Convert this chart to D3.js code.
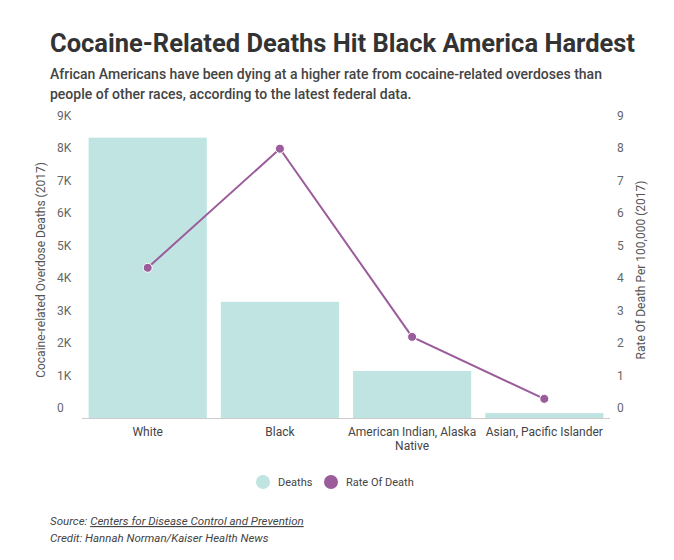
<!DOCTYPE html>
<html><head><meta charset="utf-8">
<script src="https://cdn.jsdelivr.net/npm/d3@7"></script>
<style>body{margin:0;background:#fff;font-family:Roboto,sans-serif}</style>
</head><body><svg id="c" width="674" height="560"></svg>
<script>
const categories=["White","Black","American Indian, Alaska Native","Asian, Pacific Islander"];
const deaths=[8640,3580,1450,150];
const rates=[4.63,8.3,2.5,0.59];
const leftTicks=[0,1000,2000,3000,4000,5000,6000,7000,8000,9000];
const leftLabels=["0","1K","2K","3K","4K","5K","6K","7K","8K","9K"];
const rightTicks=[0,1,2,3,4,5,6,7,8,9];
const svg=d3.select("#c");
svg.append("text").attr("x",50).attr("y",52).attr("font-size",25.5).attr("font-weight",700).attr("fill","#333").text("Cocaine-Related Deaths Hit Black America Hardest");
svg.append("text").attr("x",50).attr("y",79).attr("font-size",14).attr("font-weight",500).attr("fill","#444").text("African Americans have been dying at a higher rate from cocaine-related overdoses than");
svg.append("text").attr("x",50).attr("y",99).attr("font-size",14).attr("font-weight",500).attr("fill","#444").text("people of other races, according to the latest federal data.");
const x=d3.scaleBand().domain(categories).range([82,610]).paddingInner(0.106).paddingOuter(0.05);
const y=d3.scaleLinear().domain([0,9000]).range([418,126]);
const y2=d3.scaleLinear().domain([0,9]).range([418,126]);
const g=svg.append("g");
g.selectAll("text.l").data(leftTicks).join("text").attr("x",57).attr("y",d=>y(d)-6).attr("font-size",12).attr("fill","#666").text((d,i)=>leftLabels[i]);
g.selectAll("text.r").data(rightTicks).join("text").attr("x",617).attr("y",d=>y2(d)-6).attr("font-size",12).attr("fill","#666").text(d=>d);
g.selectAll("rect").data(deaths).join("rect").attr("x",(d,i)=>x(categories[i])).attr("width",x.bandwidth()).attr("y",d=>y(d)).attr("height",d=>418-y(d)).attr("fill","#bfe4e1");
g.append("line").attr("x1",82).attr("x2",610).attr("y1",418.5).attr("y2",418.5).attr("stroke","#ccc");
const line=d3.line().x((d,i)=>x(categories[i])+x.bandwidth()/2).y(d=>y2(d));
g.append("path").attr("d",line(rates)).attr("fill","none").attr("stroke","#9b5c9b").attr("stroke-width",2);
g.selectAll("circle").data(rates).join("circle").attr("cx",(d,i)=>x(categories[i])+x.bandwidth()/2).attr("cy",d=>y2(d)).attr("r",4.5).attr("fill","#9b5c9b").attr("stroke","#fff").attr("stroke-width",1);
const lab=[["White"],["Black"],["American Indian, Alaska","Native"],["Asian, Pacific Islander"]];
categories.forEach((c,i)=>{lab[i].forEach((t,j)=>svg.append("text").attr("x",x(c)+x.bandwidth()/2).attr("y",436+j*14).attr("text-anchor","middle").attr("font-size",12).attr("fill","#444").text(t));});
svg.append("text").attr("transform","translate(45,270) rotate(-90)").attr("text-anchor","middle").attr("font-size",12).attr("fill","#555").text("Cocaine-related Overdose Deaths (2017)");
svg.append("text").attr("transform","translate(645,270) rotate(-90)").attr("text-anchor","middle").attr("font-size",12).attr("fill","#555").text("Rate Of Death Per 100,000 (2017)");
svg.append("circle").attr("cx",263).attr("cy",482).attr("r",7).attr("fill","#bfe4e1");
svg.append("text").attr("x",278).attr("y",486).attr("font-size",11).attr("fill","#444").text("Deaths");
svg.append("circle").attr("cx",331).attr("cy",482).attr("r",7).attr("fill","#9b5c9b");
svg.append("text").attr("x",346).attr("y",486).attr("font-size",11).attr("fill","#444").text("Rate Of Death");
const s=svg.append("text").attr("x",50).attr("y",525).attr("font-size",11.5).attr("font-style","italic").attr("fill","#444");
s.append("tspan").text("Source: ");
s.append("tspan").attr("text-decoration","underline").text("Centers for Disease Control and Prevention");
svg.append("text").attr("x",50).attr("y",542).attr("font-size",11.5).attr("font-style","italic").attr("fill","#444").text("Credit: Hannah Norman/Kaiser Health News");
</script></body></html>
